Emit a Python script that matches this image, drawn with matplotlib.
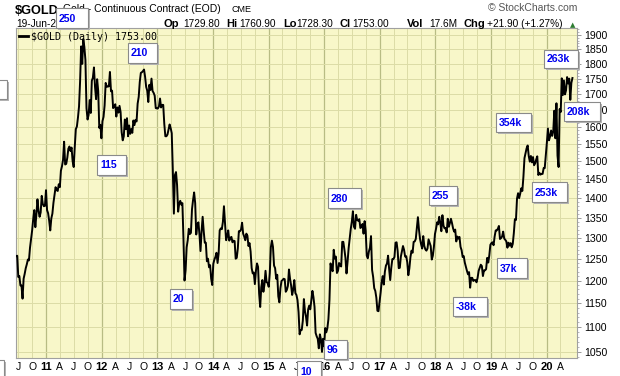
import numpy as np
import pandas as pd
import matplotlib
matplotlib.use('Agg')
import matplotlib.pyplot as plt
from matplotlib.patches import Rectangle
from matplotlib.lines import Line2D
from matplotlib.ticker import FixedLocator, NullFormatter, FixedFormatter
from matplotlib.transforms import blended_transform_factory

plt.rcParams['font.family'] = ['Liberation Sans', 'DejaVu Sans']

W, H = 620, 376

# weekly closes, $GOLD continuous contract
gold_2010 = [1256, 1257, 1208, 1210, 1189, 1189, 1160, 1204, 1215, 1228, 1237, 1248, 1246, 1276, 1297,
             1318, 1346, 1369, 1326, 1358, 1397, 1367, 1352, 1363, 1406, 1385, 1379, 1380, 1421]
gold_2011 = [1369, 1361, 1342, 1318, 1348, 1360, 1388, 1409, 1429, 1421, 1419, 1437, 1429, 1474, 1486,
             1504, 1556, 1491, 1493, 1510, 1536, 1542, 1529, 1539, 1500, 1484, 1541, 1593, 1601, 1628,
             1662, 1742, 1860, 1800, 1885, 1858, 1813, 1657, 1622, 1636, 1682, 1642, 1744, 1754, 1788,
             1724, 1685, 1749, 1711, 1597, 1606, 1566]
gold_2012 = [1617, 1630, 1665, 1737, 1725, 1725, 1726, 1773, 1710, 1712, 1657, 1662, 1669, 1631, 1659,
             1643, 1664, 1645, 1584, 1560, 1572, 1622, 1593, 1626, 1572, 1604, 1579, 1593, 1582, 1619,
             1605, 1621, 1616, 1671, 1692, 1740, 1770, 1772, 1776, 1781, 1757, 1724, 1712, 1676, 1731,
             1714, 1751, 1711, 1705, 1696, 1657, 1656]
gold_2013 = [1656, 1662, 1687, 1659, 1667, 1667, 1609, 1572, 1572, 1577, 1592, 1607, 1596, 1581, 1476,
             1360, 1462, 1470, 1435, 1365, 1386, 1393, 1383, 1387, 1297, 1200, 1223, 1277, 1294, 1322,
             1309, 1312, 1371, 1395, 1415, 1387, 1308, 1332, 1338, 1309, 1268, 1316, 1352, 1316, 1288,
             1288, 1244, 1250, 1230, 1235, 1204, 1190]
gold_2014 = [1238, 1248, 1254, 1264, 1240, 1262, 1318, 1323, 1321, 1339, 1379, 1334, 1294, 1303, 1318,
             1293, 1300, 1302, 1289, 1293, 1292, 1250, 1252, 1274, 1316, 1316, 1320, 1337, 1310, 1303,
             1294, 1310, 1305, 1280, 1287, 1267, 1228, 1216, 1218, 1192, 1222, 1239, 1231, 1171, 1142,
             1185, 1201, 1175, 1191, 1222, 1196, 1195]
gold_2015 = [1186, 1217, 1277, 1293, 1278, 1234, 1228, 1204, 1213, 1165, 1152, 1183, 1199, 1201, 1204,
             1203, 1175, 1179, 1188, 1225, 1204, 1189, 1168, 1180, 1201, 1172, 1168, 1157, 1131, 1085,
             1094, 1094, 1113, 1159, 1133, 1121, 1103, 1137, 1145, 1137, 1156, 1177, 1163, 1142, 1088,
             1081, 1076, 1057, 1085, 1075, 1050, 1076]
gold_2016 = [1061, 1098, 1089, 1097, 1116, 1157, 1239, 1227, 1221, 1271, 1250, 1255, 1217, 1222, 1240,
             1234, 1232, 1290, 1290, 1272, 1252, 1216, 1243, 1275, 1298, 1322, 1340, 1366, 1327, 1322,
             1357, 1344, 1342, 1346, 1324, 1326, 1334, 1310, 1341, 1317, 1257, 1251, 1267, 1276, 1304,
             1224, 1208, 1183, 1177, 1162, 1134, 1133, 1152]
gold_2017 = [1173, 1197, 1210, 1191, 1220, 1234, 1239, 1257, 1226, 1201, 1229, 1249, 1249, 1254, 1288,
             1289, 1268, 1228, 1229, 1255, 1267, 1280, 1271, 1255, 1256, 1242, 1212, 1228, 1254, 1269,
             1264, 1290, 1291, 1297, 1325, 1351, 1320, 1297, 1284, 1274, 1304, 1280, 1272, 1269, 1274,
             1296, 1288, 1280, 1248, 1257, 1278, 1309]
gold_2018 = [1322, 1338, 1333, 1352, 1337, 1316, 1356, 1330, 1323, 1324, 1313, 1347, 1327, 1336, 1347,
             1336, 1323, 1315, 1320, 1291, 1303, 1298, 1302, 1278, 1270, 1254, 1256, 1241, 1231, 1222,
             1214, 1219, 1184, 1206, 1206, 1199, 1201, 1201, 1196, 1206, 1222, 1229, 1236, 1233, 1210,
             1223, 1223, 1226, 1252, 1241, 1258, 1283]
gold_2019 = [1287, 1289, 1282, 1303, 1318, 1318, 1322, 1329, 1297, 1299, 1303, 1315, 1298, 1295, 1291,
             1276, 1288, 1281, 1287, 1277, 1285, 1311, 1346, 1344, 1399, 1413, 1400, 1412, 1426, 1419,
             1457, 1509, 1523, 1537, 1545, 1515, 1499, 1515, 1497, 1512, 1489, 1494, 1505, 1514, 1462,
             1468, 1463, 1465, 1465, 1481, 1481, 1515]
gold_2020 = [1553, 1595, 1560, 1571, 1589, 1573, 1586, 1649, 1566, 1672, 1516, 1484, 1654, 1645, 1752,
             1698, 1745, 1700, 1713, 1756, 1735, 1751, 1683, 1737, 1753]

first_week, last_week = '2010-06-18', '2020-06-19'

y_ticks = list(range(1050, 1901, 50))

# COT annotations and where their boxes sit (pixels from top-left)
cot_labels = ['250', '210', '115', '20', '280', '96', '10', '255', '-38k', '37k',
              '354k', '253k', '263k', '208k', '', '']
cot_boxes = [(56, 8, 88, 28), (128, 43, 157, 63), (97, 155, 126, 175), (170, 289, 192, 309),
             (328, 188, 361, 208), (324, 340, 347, 359), (297, 361, 321, 382), (429, 186, 457, 205),
             (453, 297, 487, 316), (497, 258, 527, 278), (496, 113, 531, 132), (532, 182, 567, 202),
             (544, 50, 578, 68), (564, 102, 600, 121), (-6, 80, 7, 99), (-6, 360, 4, 382)]


def fx(x):
    return x / W


def fy(y):
    return 1 - y / H


prices = np.concatenate([gold_2010, gold_2011, gold_2012, gold_2013, gold_2014, gold_2015,
                         gold_2016, gold_2017, gold_2018, gold_2019, gold_2020])
dates = pd.date_range(first_week, last_week, periods=len(prices))

fig = plt.figure(figsize=(W / 100, H / 100), dpi=100)
fig.patch.set_facecolor('white')
top, bottom, left, right = 28, 358, 16, 577
ax = fig.add_axes([fx(left), fy(bottom), fx(right) - fx(left), fy(top) - fy(bottom)])
ax.set_facecolor('#f8f7c9')

ax.plot(dates, prices, color='black', lw=1.4, zorder=3)

ax.set_yscale('log')
ax.set_ylim(1038, 1925)
ax.set_xlim(pd.Timestamp('2010-06-17'), pd.Timestamp('2020-07-19'))

# quarter grid, darker at year starts
quarters = pd.date_range('2010-07-01', '2020-04-01', freq='QS')
ax.set_xticks(quarters)
ax.set_xticklabels([''] * len(quarters))
ax.tick_params(axis='x', length=0)
for q in quarters:
    if q.month == 1:
        ax.axvline(q, color='#b8bc84', lw=0.9, zorder=1)
    else:
        ax.axvline(q, color='#dcdca6', lw=0.7, zorder=1)

ax.yaxis.set_major_locator(FixedLocator(y_ticks))
ax.yaxis.set_major_formatter(FixedFormatter([str(v) for v in y_ticks]))
ax.yaxis.set_minor_locator(FixedLocator(list(range(1040, 1925, 10))))
ax.yaxis.set_minor_formatter(NullFormatter())
ax.yaxis.tick_right()
ax.tick_params(axis='y', which='major', length=3, width=0.6, color='#888888',
               labelsize=7.6, pad=2, labelcolor='black')
ax.tick_params(axis='y', which='minor', length=1.5, width=0.5, color='#999999')
for v in y_ticks:
    ax.axhline(v, color='#dcdca6', lw=0.7, zorder=1)

for sp in ax.spines.values():
    sp.set_color('#a0a0a0')
    sp.set_linewidth(0.8)

# month / year labels under the plot
trans = blended_transform_factory(ax.transData, fig.transFigure)
month_letter = {4: 'A', 7: 'J', 10: 'O'}
for q in quarters:
    if q.month == 1:
        ax.text(q, fy(366.5), f'{q.year % 100:02d}', transform=trans, ha='center', va='center',
                fontsize=8, fontweight='bold', clip_on=False)
    else:
        ax.text(q, fy(366.5), month_letter[q.month], transform=trans, ha='center', va='center',
                fontsize=7.5, clip_on=False)

# legend inside plot
fig.add_artist(Line2D([fx(19), fx(28)], [fy(36), fy(36)], color='black', lw=2, zorder=4))
fig.text(fx(31), fy(39.5), '$GOLD (Daily) 1753.00', family='DejaVu Sans Mono', fontsize=7.2,
         va='baseline', zorder=4)

# header
fig.text(fx(15), fy(14.5), '$GOLD', fontsize=9.2, fontweight='bold', va='baseline')
fig.text(fx(63), fy(12.5), 'Gold - Continuous Contract (EOD)', fontsize=7.5, va='baseline')
fig.text(fx(232), fy(12.5), 'CME', fontsize=6.5, va='baseline')
fig.text(fx(16), fy(27), '19-Jun-2020', fontsize=7.3, va='baseline')
fig.text(fx(577), fy(11), '\u00a9 StockCharts.com', ha='right', fontsize=7.5, color='#555555',
         va='baseline')

ohlc = [(164, 'Op', True), (183, '1729.80', False), (226, 'Hi', True), (239, '1760.90', False),
        (283, 'Lo', True), (296, '1728.30', False), (340, 'Cl', True), (352, '1753.00', False),
        (407, 'Vol', True), (429, '17.6M', False), (463, 'Chg', True),
        (487, '+21.90 (+1.27%)', False)]
for x, s, b in ohlc:
    fig.text(fx(x), fy(27), s, fontsize=8 if b else 7.3, fontweight='bold' if b else 'normal',
             va='baseline')
fig.text(fx(573), fy(25), '\u25b2', fontsize=5, color='#2e7d32', ha='center', va='center',
         family='DejaVu Sans')

# COT boxes
for lab, (x0, y0, x1, y1) in zip(cot_labels, cot_boxes):
    fig.add_artist(Rectangle((fx(x0 + 2), fy(y1 + 2)), (x1 - x0) / W, (y1 - y0) / H,
                             transform=fig.transFigure, facecolor='#b4b4b4', edgecolor='none',
                             zorder=5))
    fig.add_artist(Rectangle((fx(x0), fy(y1)), (x1 - x0) / W, (y1 - y0) / H,
                             transform=fig.transFigure, facecolor='white', edgecolor='#8a8a8a',
                             lw=0.8, zorder=6))
    if lab:
        fig.text(fx(x0 + 3), fy((y0 + y1) / 2 + 0.5), lab, color='#0000ee', fontweight='bold',
                 fontsize=7.6, va='center', ha='left', zorder=7)

fig.savefig('out.png', dpi=100, facecolor='white')
